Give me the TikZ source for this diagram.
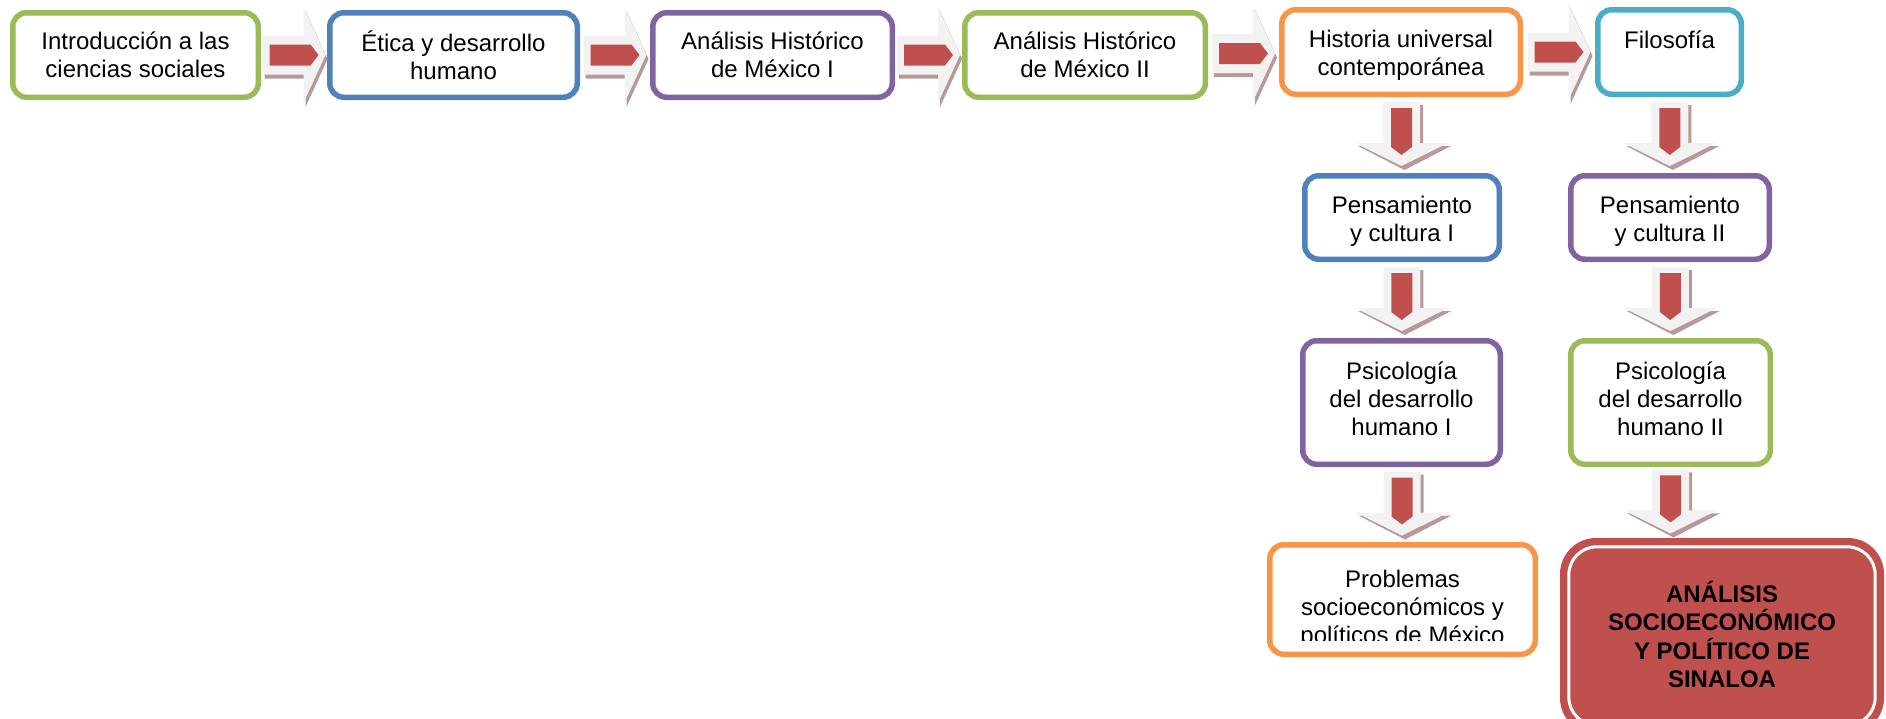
\documentclass[tikz,border=0pt]{standalone}
\usepackage{fontspec}
\setmainfont{Liberation Sans}
\usetikzlibrary{calc}
\definecolor{cgreen}{HTML}{9BBB59}
\definecolor{cblue}{HTML}{4F81BD}
\definecolor{cpurple}{HTML}{8064A2}
\definecolor{corange}{HTML}{F79646}
\definecolor{ccyan}{HTML}{4BACC6}
\definecolor{cred}{HTML}{C0504D}
\definecolor{arrwhite}{HTML}{F2F2F2}
\definecolor{arrshadow}{HTML}{B89898}
\begin{document}
\begin{tikzpicture}[x=1pt,y=-1pt,
  box/.style={draw, line width=5.5pt, rounded corners=14pt, fill=white,
    align=center, inner sep=0pt, font=\fontsize{24}{28}\selectfont, text=black},
  txt/.style={align=center, inner sep=0pt, font=\fontsize{24}{28}\selectfont, text=black},
  harrow/.pic={
    \fill[arrshadow] (-29.5,-15.5) -- (11.5,-15.5) -- (11.5,-44) -- (33.5,4) -- (11.5,52) -- (11.5,23.5) -- (-29.5,23.5) -- cycle;
    \fill[arrwhite] (-31.5,-19.5) -- (9.5,-19.5) -- (9.5,-48) -- (31.5,0) -- (9.5,48) -- (9.5,19.5) -- (-31.5,19.5) -- cycle;
    \fill[cred] (-24.5,-10.5) -- (16.5,-10.5) -- (24.5,0) -- (16.5,10.5) -- (-24.5,10.5) -- cycle;
  },
  varrow/.pic={
    \fill[arrshadow] (-15.5,-30) -- (-15.5,11) -- (-43.5,11) -- (3,35) -- (49.5,11) -- (21.5,11) -- (21.5,-30) -- cycle;
    \fill[arrwhite] (-18.5,-33) -- (-18.5,8) -- (-46.5,8) -- (0,31) -- (46.5,8) -- (18.5,8) -- (18.5,-33) -- cycle;
    \fill[cred] (-10.5,-27) -- (-10.5,12) -- (0,20) -- (10.5,12) -- (10.5,-27) -- cycle;
  }
]
\useasboundingbox (0,0) rectangle (1886,718);

% top row
\node[box, draw=cgreen, minimum width=245.5pt, minimum height=84.5pt] (b1) at (135.5,55) {Introducción a las\\ciencias sociales};
\node[box, draw=cblue, minimum width=247.5pt, minimum height=84.5pt] (b2) at (453.5,55) {Ética y desarrollo\\humano};
\node[box, draw=cpurple, minimum width=239.5pt, minimum height=84.5pt] (b3) at (772.5,55) {Análisis Histórico\\de México I};
\node[box, draw=cgreen, minimum width=240.5pt, minimum height=84.5pt] (b4) at (1085,55) {Análisis Histórico\\de México II};
\node[box, draw=corange, minimum width=238.5pt, minimum height=84.5pt] (b5) at (1401,52) {};
\node[txt] (t5) at (1401,55.5) {Historia universal\\contemporánea};
\node[box, draw=ccyan, minimum width=143.5pt, minimum height=84.5pt] (b6) at (1669.5,52) {};
\node[txt] (t6) at (1669.5,40) {Filosofía};

% second row
\node[box, draw=cblue, minimum width=194.5pt, minimum height=83.5pt] (b7) at (1402,217.5) {};
\node[txt] (t7) at (1402,221) {Pensamiento\\y cultura I};
\node[box, draw=cpurple, minimum width=198.5pt, minimum height=83.5pt] (b8) at (1670,217.5) {};
\node[txt] (t8) at (1670,221) {Pensamiento\\y cultura II};

% third row
\node[box, draw=cpurple, minimum width=197.5pt, minimum height=123.5pt] (b9) at (1401.5,402.5) {};
\node[txt] (t9) at (1401.5,399) {Psicología\\del desarrollo\\humano I};
\node[box, draw=cgreen, minimum width=199.5pt, minimum height=123.5pt] (b10) at (1670.5,402.5) {};
\node[txt] (t10) at (1670.5,399) {Psicología\\del desarrollo\\humano II};

% fourth row
\node[box, draw=corange, minimum width=265.5pt, minimum height=109.5pt] (b11) at (1402.5,599.5) {};
\begin{scope}
  \clip (1267,542) rectangle (1538,640);
  \node[txt] (t11) at (1402.5,609) {Problemas\\socioeconómicos y\\políticos de México};
\end{scope}

\node[fill=cred, rounded corners=36pt, minimum width=324pt, minimum height=196pt, inner sep=0pt] (b12) at (1722,636) {};
\draw[white, line width=3pt, rounded corners=28pt] ($(b12.north west)+(9,9)$) rectangle ($(b12.south east)+(-9,-9)$);
\node[txt, font=\fontsize{24}{28.5}\selectfont\bfseries] (t12) at (1722,634.5) {ANÁLISIS\\SOCIOECONÓMICO\\Y POLÍTICO DE\\SINALOA};

% horizontal arrows
\pic at ($(b1.east)!0.5!(b2.west)$) {harrow};
\pic at ($(b2.east)!0.5!(b3.west)$) {harrow};
\pic at ($(b3.east)!0.5!(b4.west)$) {harrow};
\pic at ($(b4.east)!0.5!(b5.west)$) {harrow};
\pic at ($(b5.east)!0.5!(b6.west)$) {harrow};

% vertical arrows
\pic at ($(b5.south)!0.5!(b7.north)$) {varrow};
\pic at ($(b6.south)!0.5!(b8.north)$) {varrow};
\pic at ($(b7.south)!0.5!(b9.north)$) {varrow};
\pic at ($(b8.south)!0.5!(b10.north)$) {varrow};
\pic at ($(b9.south)!0.5!(b11.north)$) {varrow};
\pic at ($(b10.south)!0.5!(b10.south |- b12.north)$) {varrow};
\end{tikzpicture}
\end{document}
